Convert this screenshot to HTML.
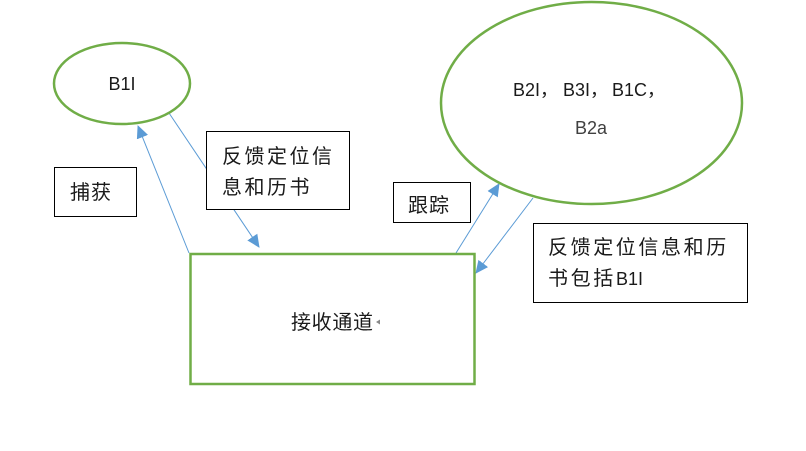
<!DOCTYPE html>
<html><head><meta charset="utf-8"><style>
html,body{margin:0;padding:0;background:#fff;}
body{width:806px;height:446px;overflow:hidden;}
svg text{font-family:"Liberation Sans","Noto Sans CJK SC",sans-serif;fill:#1a1a1a;}
</style></head><body>
<svg width="806" height="446" viewBox="0 0 806 446" xmlns="http://www.w3.org/2000/svg">
<defs>
<marker id="ah" markerWidth="13" markerHeight="12" refX="12" refY="6" orient="auto" markerUnits="userSpaceOnUse">
<path d="M0,0 L13,6 L0,12 Z" fill="#5B9BD5"/>
</marker>
</defs>
<!-- arrows -->
<line x1="189" y1="253" x2="138" y2="126" stroke="#5B9BD5" stroke-width="1" marker-end="url(#ah)"/>
<line x1="169" y1="113" x2="259" y2="247" stroke="#5B9BD5" stroke-width="1" marker-end="url(#ah)"/>
<line x1="456" y1="253" x2="499" y2="184" stroke="#5B9BD5" stroke-width="1" marker-end="url(#ah)"/>
<line x1="533" y1="198" x2="476" y2="273" stroke="#5B9BD5" stroke-width="1" marker-end="url(#ah)"/>

<!-- ellipses -->
<ellipse cx="122" cy="83.5" rx="68" ry="40.5" fill="#fff" stroke="#70AD47" stroke-width="2.5"/>
<text x="122" y="90" font-size="18" text-anchor="middle">B1I</text>

<ellipse cx="591.5" cy="103" rx="150.5" ry="101" fill="#fff" stroke="#70AD47" stroke-width="2.5"/>
<text y="96" font-size="18"><tspan x="513">B2I，</tspan><tspan x="563">B3I，</tspan><tspan x="612">B1C，</tspan></text>
<text x="591" y="134" font-size="18" text-anchor="middle" style="fill:#404040">B2a</text>

<!-- main rect -->
<rect x="190.5" y="254" width="284" height="130" fill="#fff" stroke="#70AD47" stroke-width="2.5"/>
<text x="291" y="329" font-size="20" textLength="82" lengthAdjust="spacing">接收通道</text>
<path d="M376,322 L380,319.5 L380,324.5 Z" fill="#888"/>

<!-- label boxes -->
<rect x="54.5" y="167.5" width="82" height="49" fill="#fff" stroke="#000" stroke-width="1"/>
<text x="70" y="199" font-size="20" letter-spacing="1">捕获</text>

<rect x="206.5" y="131.5" width="143" height="78" fill="#fff" stroke="#000" stroke-width="1"/>
<text x="222" y="163" font-size="20" letter-spacing="2.5">反馈定位信</text>
<text x="222" y="194" font-size="20" letter-spacing="2.5">息和历书</text>

<rect x="393.5" y="182.5" width="77" height="40" fill="#fff" stroke="#000" stroke-width="1"/>
<text x="408" y="212" font-size="20" letter-spacing="1">跟踪</text>

<rect x="533.5" y="223.5" width="214" height="79" fill="#fff" stroke="#000" stroke-width="1"/>
<text x="548" y="254" font-size="20" letter-spacing="2.6">反馈定位信息和历</text>
<text x="548" y="285" font-size="20" letter-spacing="2.6">书包括</text>
<text x="616" y="285" font-size="18">B1I</text>
</svg>
</body></html>
